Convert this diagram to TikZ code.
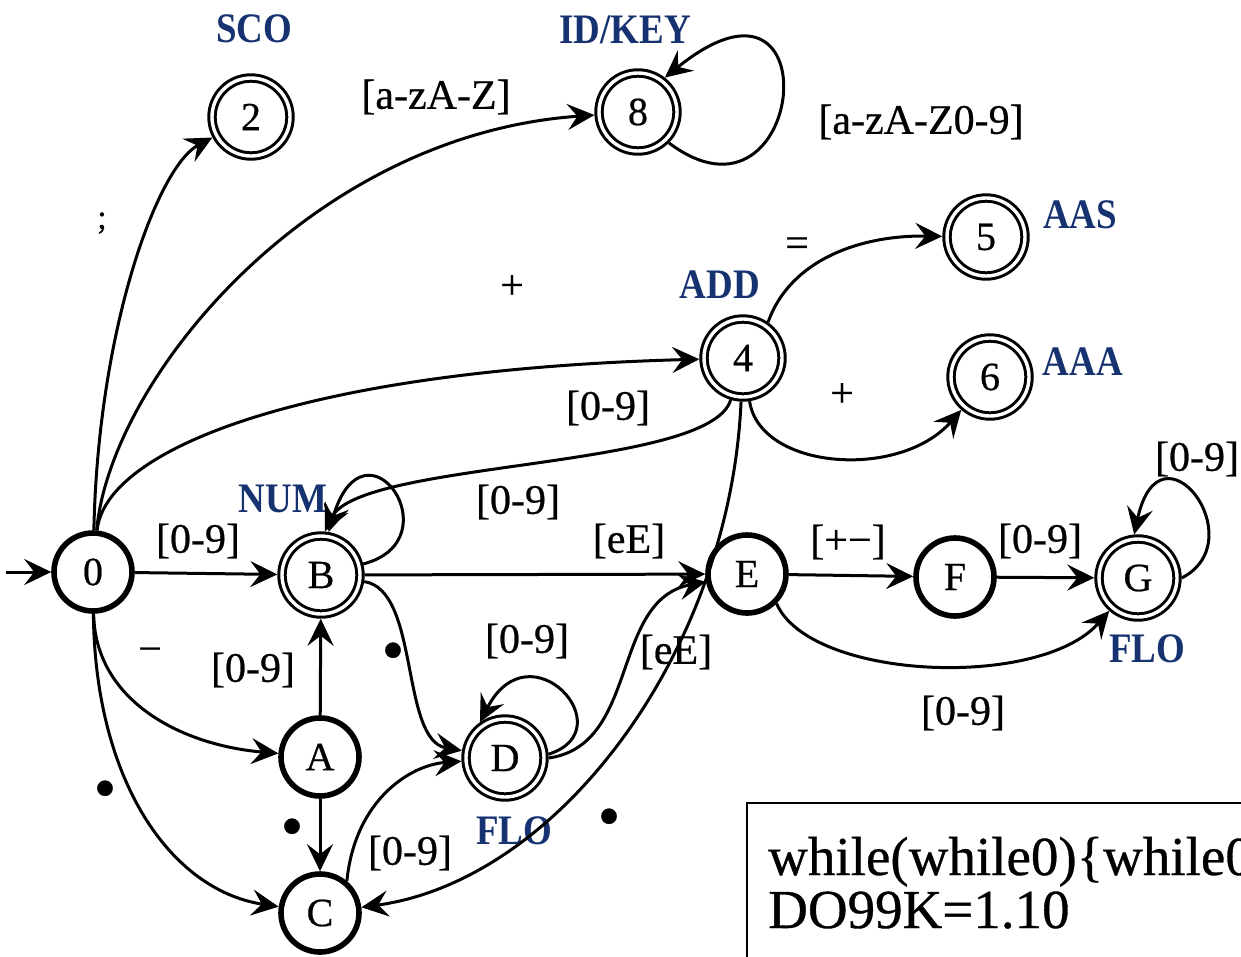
\documentclass[tikz,border=0pt]{standalone}
\usepackage{fontspec}
\setmainfont{Liberation Serif}[FakeBold=0.6]
\newfontfamily\tagfont[FakeStretch=0.88]{Liberation Serif}
\usetikzlibrary{arrows.meta}
\definecolor{tagblue}{RGB}{22,50,112}

\begin{document}
\begin{tikzpicture}[x=1pt,y=1pt,
  state/.style={circle, draw, inner sep=0pt, font=\fontsize{40}{42}\selectfont},
  accept/.style={state, minimum size=78pt, double, line width=3pt, double distance=3.4pt, outer sep=4.7pt},
  plain/.style={state, minimum size=78pt, line width=5.6pt, outer sep=2.8pt},
  arr/.style={line width=3pt, -{Stealth[length=27pt,width=26pt,inset=10pt]}},
  lbl/.style={font=\fontsize{42}{44}\selectfont, inner sep=0pt},
  dotlbl/.style={font=\fontsize{64}{64}\selectfont, inner sep=0pt},
  tag/.style={font=\tagfont\bfseries\fontsize{42}{44}\selectfont, text=tagblue, inner sep=0pt},
  code/.style={font=\fontsize{55}{53}\selectfont, inner sep=0pt, anchor=base west},
]
\useasboundingbox (0,0) rectangle (1241,-956);
\clip (0,0) rectangle (1241,-956);

% states
\node[plain]  (n0) at (93,-572)   {0};
\node[accept] (n2) at (251,-117)  {2};
\node[accept] (n8) at (638,-112)  {8};
\node[accept] (n5) at (986,-237)  {5};
\node[accept] (n4) at (743,-358)  {4};
\node[accept] (n6) at (990,-377)  {6};
\node[accept] (nB) at (321,-575)  {B};
\node[plain]  (nE) at (747,-574)  {E};
\node[plain]  (nF) at (955,-577)  {F};
\node[accept] (nG) at (1138,-578) {G};
\node[plain]  (nA) at (320,-757)  {A};
\node[plain]  (nC) at (320,-913)  {C};
\node[accept] (nD) at (505,-758)  {D};

% token names
\node[tag] (tSCO) at (254,-29)  {SCO};
\node[tag] (tID)  at (625,-30)  {ID/KEY};
\node[tag] (tAAS) at (1080,-215) {AAS};
\node[tag] (tADD) at (720,-285) {ADD};
\node[tag] (tAAA) at (1083,-362) {AAA};
\node[tag] (tNUM) at (283,-499) {NUM};
\node[tag] (tFLOg) at (1147,-649) {FLO};
\node[tag] (tFLOd) at (514,-831) {FLO};

% transitions
\coordinate (start) at (6,-572);
\draw[arr] (start) -- (n0);
\draw[arr] (n0) .. controls (98,-330) and (157,-167) .. (n2);
\draw[arr] (n0) .. controls (110,-380) and (310,-135) .. (n8);
\draw[arr] (n0) .. controls (105,-450) and (300,-370) .. (n4);
\draw[arr] (n0) -- (nB);
\draw[arr] (n0) .. controls (95,-700) and (180,-745) .. (nA);
\draw[arr] (n0) .. controls (95,-780) and (170,-890) .. (nC);
\draw[arr] (nA) -- (nB);
\draw[arr] (nA) -- (nC);
\draw[arr] (nB) .. controls (455,-540) and (365,-410) .. (nB.80);
\draw[arr] (n4) .. controls (710,-470) and (360,-460) .. (nB.85);
\draw[arr] (nB) -- (nE);
\draw[arr] (nB) .. controls (420,-590) and (400,-740) .. (nD);
\draw[arr] (nD.5) .. controls (625,-730) and (530,-625) .. (nD.125);
\draw[arr] (nD.east) .. controls (640,-745) and (610,-600) .. (nE);
\draw[arr] (n4) .. controls (730,-650) and (560,-880) .. (nC);
\draw[arr] (nC.50) .. controls (355,-800) and (410,-765) .. (nD);
\draw[arr] (n4.55) .. controls (790,-260) and (860,-235) .. (n5);
\draw[arr] (n4) .. controls (760,-470) and (900,-480) .. (n6);
\draw[arr] (nE) -- (nF);
\draw[arr] (nF) -- (nG);
\draw[arr] (nE.-45) .. controls (810,-680) and (1040,-690) .. (nG);
\draw[arr] (nG.east) .. controls (1255,-540) and (1160,-415) .. (nG.95);
\draw[arr] (n8.-45) .. controls (805,-245) and (835,60) .. (n8.52);

% transition labels
\node[lbl, font=\fontsize{34}{36}\selectfont] (lsemi) at (102,-223) {;};
\node[lbl] (lid)   at (436,-97)  {[a-zA-Z]};
\node[lbl] (lidl)  at (921,-122) {[a-zA-Z0-9]};
\node[lbl] (leq)   at (797,-247) {=};
\node[lbl] (lplus) at (512,-287) {+};
\node[lbl] (l4B)   at (608,-408) {[0-9]};
\node[lbl] (lpp)   at (842,-395) {+};
\node[lbl] (lGl)   at (1197,-459) {[0-9]};
\node[lbl] (lBl)   at (518,-502) {[0-9]};
\node[lbl] (l0B)   at (198,-541) {[0-9]};
\node[lbl] (lBE)   at (629,-541) {[eE]};
\node[lbl] (lEF)   at (848,-542) {[+−]};
\node[lbl] (lFG)   at (1040,-541) {[0-9]};
\node[lbl] (lminus) at (150,-655) {−};
\node[lbl] (lAB)   at (253,-670) {[0-9]};
\node[dotlbl] (lBD) at (393,-657) {•};
\node[lbl] (lDl)   at (527,-641) {[0-9]};
\node[lbl] (lDE)   at (676,-652) {[eE]};
\node[lbl] (lEG)   at (963,-713) {[0-9]};
\node[dotlbl] (l0C) at (105,-795) {•};
\node[dotlbl] (lAC) at (292,-833) {•};
\node[lbl] (lCD)   at (410,-853) {[0-9]};
\node[dotlbl] (l4C) at (609,-823) {•};

% sample input
\draw[line width=1.8pt] (747,-1010) -- (747,-803) -- (1260,-803);
\node[code] (code1) at (768,-875) {while(while0)\{while0};
\node[code] (code2) at (768,-928) {DO99K=1.10};
\end{tikzpicture}
\end{document}
